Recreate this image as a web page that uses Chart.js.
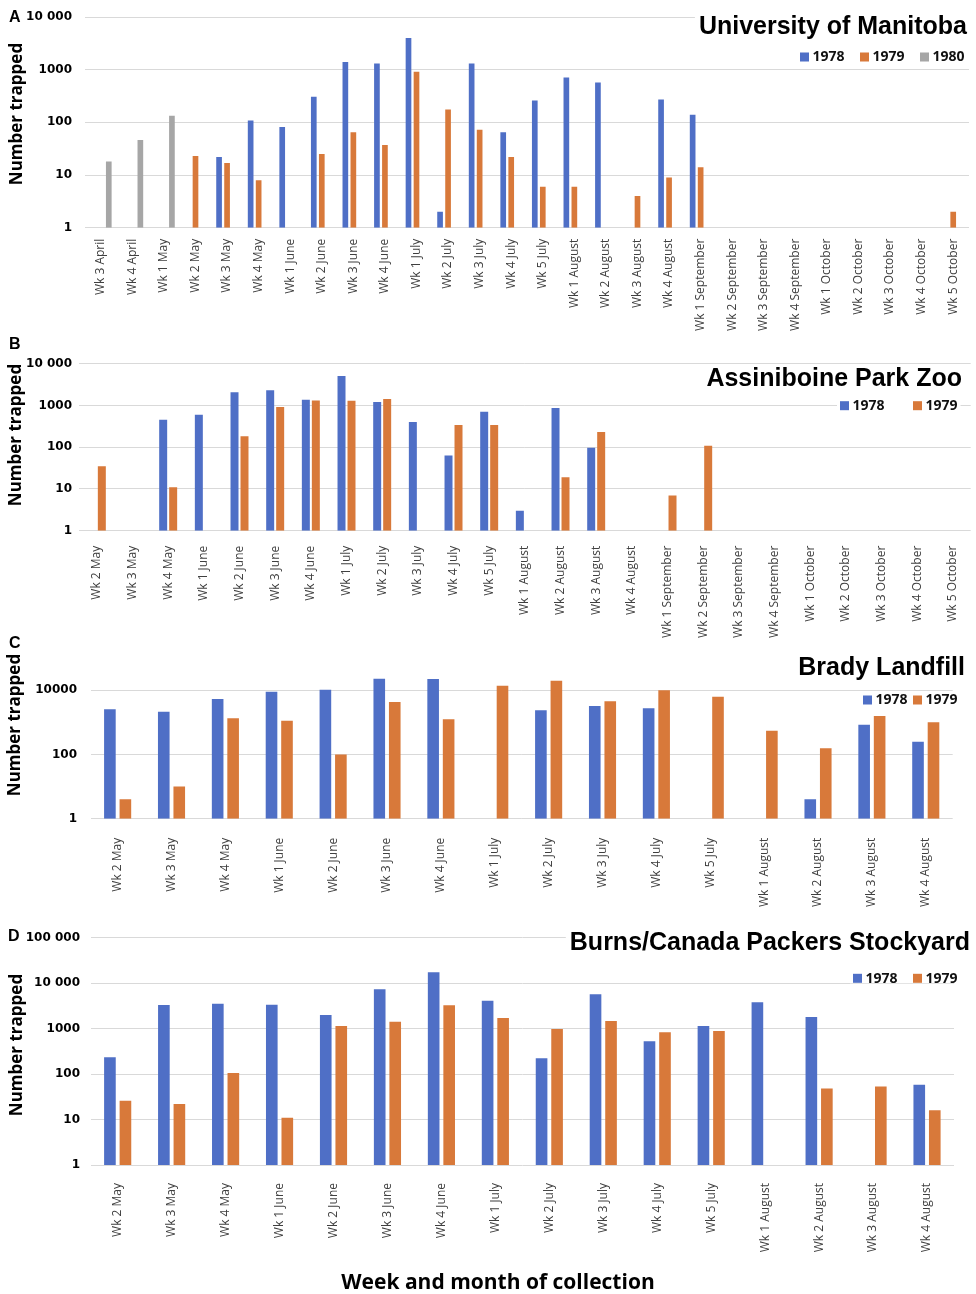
<!DOCTYPE html>
<html>
<head>
<meta charset="utf-8">
<script src="https://cdn.jsdelivr.net/npm/chart.js@4.4.1/dist/chart.umd.min.js"></script>
<style>
  html, body { margin: 0; padding: 0; background: #fff; }
  #page { position: relative; width: 976px; height: 1294px; overflow: hidden; background: #fff; }
  #page canvas { position: absolute; left: 0; }
</style>
</head>
<body>
<div id="page">
  <canvas id="panelA" width="976" height="345" style="top:0px"></canvas>
  <canvas id="panelB" width="976" height="310" style="top:330px"></canvas>
  <canvas id="panelC" width="976" height="300" style="top:628px"></canvas>
  <canvas id="panelD" width="976" height="374" style="top:920px"></canvas>
</div>
<script>
// Series colours
const BLUE = '#4F6FC6';
const ORANGE = '#D8793A';
const GREY = '#A6A6A6';
const GRID = '#D9D9D9';

// ---- A: University of Manitoba ----
const weeksA = ['Wk 3 April', 'Wk 4 April', 'Wk 1 May', 'Wk 2 May', 'Wk 3 May', 'Wk 4 May',
  'Wk 1 June', 'Wk 2 June', 'Wk 3 June', 'Wk 4 June', 'Wk 1 July', 'Wk 2 July', 'Wk 3 July',
  'Wk 4 July', 'Wk 5 July', 'Wk 1 August', 'Wk 2 August', 'Wk 3 August', 'Wk 4 August',
  'Wk 1 September', 'Wk 2 September', 'Wk 3 September', 'Wk 4 September', 'Wk 1 October',
  'Wk 2 October', 'Wk 3 October', 'Wk 4 October', 'Wk 5 October'];
const manitoba1978 = [null, null, null, null, 22, 108, 82, 305, 1395, 1310, 4000, 2, 1310,
  65, 260, 710, 570, null, 271, 139, null, null, null, null, null, null, null, null];
const manitoba1979 = [null, null, null, 23, 17, 8, null, 25, 65, 37, 910, 175, 72,
  22, 6, 6, null, 4, 9, 14, null, null, null, null, null, null, null, 2];
const manitoba1980 = [18, 46, 133, null, null, null, null, null, null, null, null, null, null,
  null, null, null, null, null, null, null, null, null, null, null, null, null, null, null];

// ---- B: Assiniboine Park Zoo ----
const weeksB = ['Wk 2 May', 'Wk 3 May', 'Wk 4 May', 'Wk 1 June', 'Wk 2 June', 'Wk 3 June',
  'Wk 4 June', 'Wk 1 July', 'Wk 2 July', 'Wk 3 July', 'Wk 4 July', 'Wk 5 July', 'Wk 1 August',
  'Wk 2 August', 'Wk 3 August', 'Wk 4 August', 'Wk 1 September', 'Wk 2 September',
  'Wk 3 September', 'Wk 4 September', 'Wk 1 October', 'Wk 2 October', 'Wk 3 October',
  'Wk 4 October', 'Wk 5 October'];
const zoo1978 = [null, null, 455, 600, 2070, 2300, 1370, 5080, 1210, 400, 63, 710, 3,
  870, 97, null, null, null, null, null, null, null, null, null, null];
const zoo1979 = [35, null, 11, null, 183, 920, 1320, 1300, 1430, null, 340, 340, null,
  19, 231, null, 7, 109, null, null, null, null, null, null, null];

// ---- C: Brady Landfill / D: Burns/Canada Packers Stockyard ----
const weeksCD = ['Wk 2 May', 'Wk 3 May', 'Wk 4 May', 'Wk 1 June', 'Wk 2 June', 'Wk 3 June',
  'Wk 4 June', 'Wk 1 July', 'Wk 2 July', 'Wk 3 July', 'Wk 4 July', 'Wk 5 July',
  'Wk 1 August', 'Wk 2 August', 'Wk 3 August', 'Wk 4 August'];
const brady1978 = [2560, 2150, 5360, 9040, 10400, 23000, 22400, null, 2380, 3240, 2750, null,
  null, 4, 848, 250];
const brady1979 = [4, 10, 1340, 1130, 100, 4320, 1250, 13900, 19900, 4540, 10000, 6300,
  551, 156, 1580, 1007];
const stockyard1978 = [234, 3310, 3540, 3370, 2000, 7330, 17400, 4120, 222, 5700, 526, 1140,
  3800, 1800, null, 58];
const stockyard1979 = [26, 22, 106, 11, 1140, 1420, 3270, 1710, 982, 1470, 830, 888,
  null, 48, 53, 16];

// Log-axis ticks and their printed labels
const ticksAB = [1, 10, 100, 1000, 10000];
const tickLabelsAB = ['1', '10', '100', '1000', '10 000'];
const ticksC = [1, 100, 10000];
const tickLabelsC = ['1', '100', '10000'];
const ticksD = [1, 10, 100, 1000, 10000, 100000];
const tickLabelsD = ['1', '10', '100', '1000', '10 000', '100 000'];

const Y_TITLE = 'Number trapped';
const X_TITLE = 'Week and month of collection';

// Panel letter, title, legend and axis captions drawn over each chart
const panelText = {
  id: 'panelText',
  afterDraw(chart, args, o) {
    const ctx = chart.ctx;
    ctx.save();
    ctx.textBaseline = 'alphabetic';

    // panel letter
    ctx.fillStyle = '#000';
    ctx.font = 'bold 16px "Liberation Sans"';
    ctx.textAlign = 'left';
    ctx.fillText(o.letter, o.letterX, o.letterY);

    // title on a white backing
    ctx.font = 'bold 25px "Liberation Sans"';
    const tw = ctx.measureText(o.title).width;
    ctx.fillStyle = '#fff';
    ctx.fillRect(o.titleRight - tw - 4, o.titleY - 20, tw + 8, 26);
    ctx.fillStyle = '#000';
    ctx.textAlign = 'right';
    ctx.fillText(o.title, o.titleRight, o.titleY);

    // legend
    ctx.font = 'bold 14px "Open Sans"';
    ctx.textAlign = 'left';
    ctx.textBaseline = 'middle';
    const sets = chart.data.datasets;
    const lastX = o.legendX[sets.length - 1] + 12.5 + ctx.measureText(sets[sets.length - 1].label).width;
    ctx.fillStyle = '#fff';
    ctx.fillRect(o.legendX[0] - 3, o.legendY - 6, lastX - o.legendX[0] + 6, 11);
    sets.forEach((ds, i) => {
      const x = o.legendX[i];
      ctx.fillStyle = ds.backgroundColor;
      ctx.fillRect(x, o.legendY - 4.5, 9, 9);
      ctx.fillStyle = '#111';
      ctx.fillText(ds.label, x + 12.5, o.legendY + 0.5);
    });

    // y axis caption
    ctx.save();
    ctx.translate(o.yTitleX, o.yTitleY);
    ctx.rotate(-Math.PI / 2);
    ctx.textAlign = 'center';
    ctx.textBaseline = 'middle';
    ctx.fillStyle = '#000';
    ctx.font = 'bold 17px "Open Sans"';
    ctx.fillText(Y_TITLE, 0, 0);
    ctx.restore();

    // x axis caption (bottom panel only)
    if (o.xTitle) {
      ctx.textAlign = 'center';
      ctx.textBaseline = 'alphabetic';
      ctx.fillStyle = '#000';
      ctx.font = 'bold 21px "Open Sans"';
      ctx.fillText(o.xTitle, o.xTitleX, o.xTitleY);
    }
    ctx.restore();
  }
};

function makePanel(id, cfg) {
  const datasets = cfg.series.map(s => ({
    label: s.label,
    data: s.data,
    backgroundColor: s.color,
    borderWidth: 0,
    barPercentage: cfg.barPct,
    categoryPercentage: cfg.catPct
  }));
  return new Chart(document.getElementById(id), {
    type: 'bar',
    data: { labels: cfg.labels, datasets },
    plugins: [panelText],
    options: {
      responsive: false,
      animation: false,
      devicePixelRatio: 1,
      events: [],
      layout: { padding: { top: cfg.padTop, right: cfg.padRight, bottom: 0, left: 0 } },
      plugins: {
        legend: { display: false },
        tooltip: { enabled: false },
        title: { display: false },
        panelText: cfg.text
      },
      scales: {
        x: {
          grid: { display: false },
          border: { display: false },
          ticks: {
            autoSkip: false,
            minRotation: 90,
            maxRotation: 90,
            padding: cfg.xTickPad,
            color: '#404040',
            font: { family: 'Open Sans', size: 12 }
          },
          afterFit: s => { s.height = cfg.xHeight; s.paddingLeft = 0; s.paddingRight = 0; }
        },
        y: {
          type: 'logarithmic',
          min: 1,
          max: cfg.yMax,
          grid: { color: GRID, lineWidth: 1, drawTicks: false },
          border: { display: false },
          afterBuildTicks: s => { s.ticks = cfg.ticks.map(v => ({ value: v })); },
          afterFit: s => { s.width = cfg.yWidth; s.paddingTop = 0; s.paddingBottom = 0; },
          ticks: {
            autoSkip: false,
            padding: cfg.yTickPad,
            color: '#000',
            font: { family: 'DejaVu Sans', size: 12, weight: 'bold' },
            callback: v => cfg.tickLabels[cfg.ticks.indexOf(v)]
          }
        }
      }
    }
  });
}

makePanel('panelA', {
  labels: weeksA,
  series: [
    { label: '1978', data: manitoba1978, color: BLUE },
    { label: '1979', data: manitoba1979, color: ORANGE },
    { label: '1980', data: manitoba1980, color: GREY }
  ],
  barPct: 0.71, catPct: 0.76,
  yMax: 10000, ticks: ticksAB, tickLabels: tickLabelsAB,
  padTop: 17, padRight: 7, xHeight: 117.3, yWidth: 85, yTickPad: 13, xTickPad: 3,
  text: { letter: 'A', letterX: 9, letterY: 22, title: 'University of Manitoba', titleRight: 967, titleY: 34,
    legendX: [800, 860, 920], legendY: 57, yTitleX: 17.5, yTitleY: 114 }
});

makePanel('panelB', {
  labels: weeksB,
  series: [
    { label: '1978', data: zoo1978, color: BLUE },
    { label: '1979', data: zoo1979, color: ORANGE }
  ],
  barPct: 0.8, catPct: 0.56,
  yMax: 10000, ticks: ticksAB, tickLabels: tickLabelsAB,
  padTop: 33.7, padRight: 5.3, xHeight: 109.3, yWidth: 79, yTickPad: 7, xTickPad: 7,
  text: { letter: 'B', letterX: 9, letterY: 19, title: 'Assiniboine Park Zoo', titleRight: 962, titleY: 55.7,
    legendX: [840, 913], legendY: 75.7, yTitleX: 16, yTitleY: 105 }
});

makePanel('panelC', {
  labels: weeksCD,
  series: [
    { label: '1978', data: brady1978, color: BLUE },
    { label: '1979', data: brady1979, color: ORANGE }
  ],
  barPct: 0.75, catPct: 0.575,
  yMax: 100000, ticks: ticksC, tickLabels: tickLabelsC,
  padTop: 30.2, padRight: 23.3, xHeight: 109.3, yWidth: 90.7, yTickPad: 13.7, xTickPad: 11,
  text: { letter: 'C', letterX: 9, letterY: 20.3, title: 'Brady Landfill', titleRight: 965, titleY: 47,
    legendX: [863, 913], legendY: 72, yTitleX: 15, yTitleY: 97 }
});

makePanel('panelD', {
  labels: weeksCD,
  series: [
    { label: '1978', data: stockyard1978, color: BLUE },
    { label: '1979', data: stockyard1979, color: ORANGE }
  ],
  barPct: 0.75, catPct: 0.575,
  yMax: 100000, ticks: ticksD, tickLabels: tickLabelsD,
  padTop: 17.7, padRight: 22, xHeight: 129, yWidth: 90.7, yTickPad: 10.7, xTickPad: 10,
  text: { letter: 'D', letterX: 8, letterY: 21, title: 'Burns/Canada Packers Stockyard', titleRight: 970, titleY: 30,
    legendX: [853, 913], legendY: 58.3, yTitleX: 17, yTitleY: 125,
    xTitle: X_TITLE, xTitleX: 498, xTitleY: 369 }
});
</script>
</body>
</html>
